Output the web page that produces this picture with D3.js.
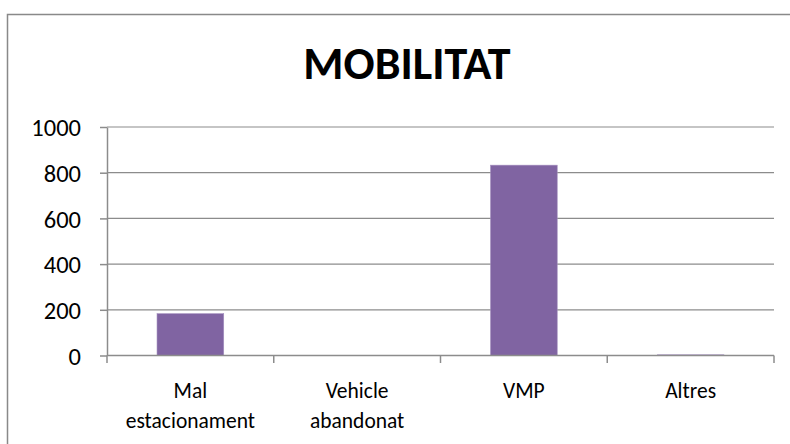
<!DOCTYPE html>
<html><head><meta charset="utf-8">
<script src="https://cdn.jsdelivr.net/npm/d3@7"></script>
<style>body{margin:0;background:#fff}svg{display:block}</style>
</head><body>
<script>
const title = "MOBILITAT";
const categories = [["Mal","estacionament"],["Vehicle","abandonat"],["VMP"],["Altres"]];
const values = [183, 0, 833, 3];
const yTicks = [0,200,400,600,800,1000];

const W=790,H=444;
const svg=d3.select("body").append("svg").attr("width",W).attr("height",H);
svg.append("rect").attr("x",7.5).attr("y",14.5).attr("width",W).attr("height",H).attr("fill","#fff").attr("stroke","#898989").attr("stroke-width",1.5);

const font="Carlito, Calibri, 'Open Sans', sans-serif";
const x=d3.scaleBand().domain(categories.map((d,i)=>i)).range([107,774]).paddingInner(0.6).paddingOuter(0.3);
const y=d3.scaleLinear().domain([0,1000]).range([355.5,127]);

// gridlines
svg.append("g").selectAll("line").data(yTicks.slice(1)).join("line")
  .attr("x1",107).attr("x2",774).attr("y1",d=>y(d)).attr("y2",d=>y(d))
  .attr("stroke","#8c8c8c").attr("stroke-width",1.2);

// bars
svg.append("g").selectAll("rect").data(values).join("rect")
  .attr("x",(d,i)=>x(i)).attr("width",x.bandwidth())
  .attr("y",d=>y(d)).attr("height",d=>y(0)-y(d))
  .attr("fill","#8064A2").attr("stroke","#a48fbf").attr("stroke-width",0.6);

// y axis
const ya=svg.append("g").attr("transform","translate(107,0)")
  .call(d3.axisLeft(y).tickValues(yTicks).tickFormat(d3.format("d")).tickSize(7).tickPadding(19).tickSizeOuter(0));
ya.select(".domain").attr("stroke","#8c8c8c").attr("stroke-width",1.5);
ya.selectAll(".tick line").attr("stroke","#8c8c8c").attr("stroke-width",1.5);
ya.selectAll("text").attr("font-family",font).attr("font-size",24.5).attr("fill","#000").attr("dy","0.36em");

// x axis baseline & ticks
const xa=svg.append("g");
xa.append("line").attr("x1",107).attr("x2",774).attr("y1",y(0)).attr("y2",y(0)).attr("stroke","#8c8c8c").attr("stroke-width",1.5);
const bounds=categories.map((d,i)=>x(i)-x.step()*0.3).concat([774]);
xa.selectAll("line.t").data(bounds).join("line").attr("class","t")
  .attr("x1",d=>d).attr("x2",d=>d).attr("y1",y(0)).attr("y2",y(0)+7.5)
  .attr("stroke","#8c8c8c").attr("stroke-width",1.5);
categories.forEach((lines,i)=>{
  const t=xa.append("text").attr("text-anchor","middle").attr("font-family",font).attr("font-size",21.5).attr("fill","#000");
  lines.forEach((l,j)=>t.append("tspan").attr("x",x(i)+x.bandwidth()/2).attr("y",398+j*30).text(l));
});

svg.append("text").attr("x",407).attr("y",79).attr("text-anchor","middle")
  .attr("font-family",font).attr("font-weight","bold").attr("font-size",46).attr("fill","#000").text(title);
</script>
</body></html>
